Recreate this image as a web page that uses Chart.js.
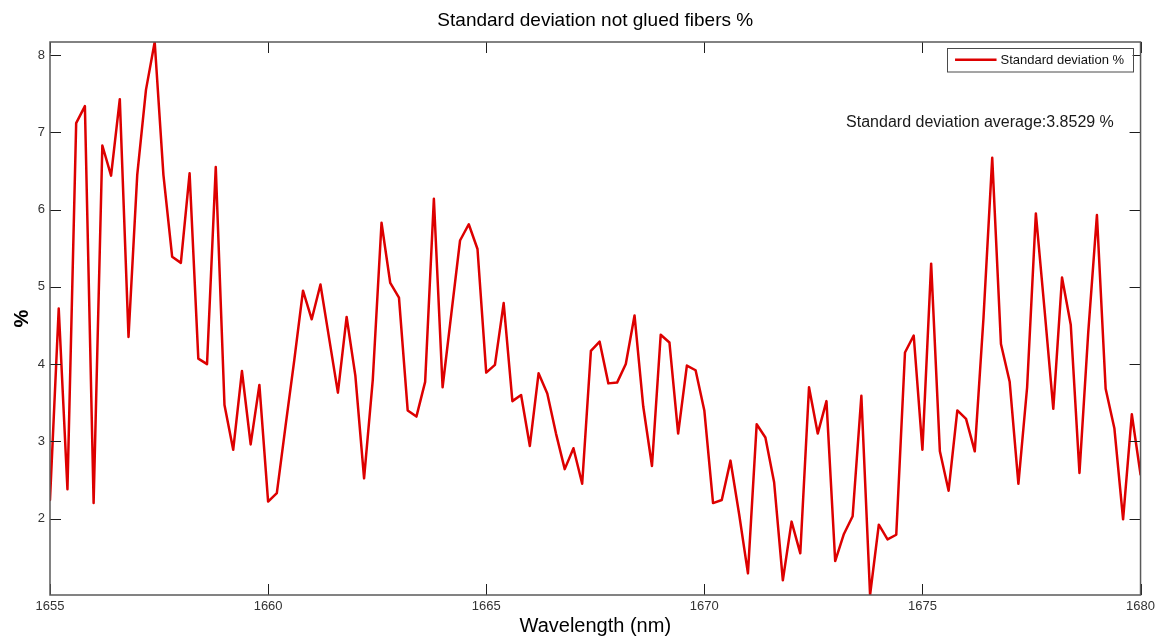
<!DOCTYPE html>
<html>
<head>
<meta charset="utf-8">
<title>Standard deviation not glued fibers %</title>
<script src="https://cdn.jsdelivr.net/npm/chart.js@4/dist/chart.umd.min.js"></script>
<style>
  html, body { margin: 0; padding: 0; background: #ffffff; }
  #wrap { width: 1159px; height: 639px; }
</style>
</head>
<body>
<div id="wrap"><canvas id="chart" width="1159" height="639"></canvas></div>
<script>
// Wavelength samples (nm)
const wavelengths = [
  1655.0, 1655.2, 1655.4, 1655.6, 1655.8, 1656.0, 1656.2, 1656.4, 1656.6, 1656.8,
  1657.0, 1657.2, 1657.4, 1657.6, 1657.8, 1658.0, 1658.2, 1658.4, 1658.6, 1658.8,
  1659.0, 1659.2, 1659.4, 1659.6, 1659.8, 1660.0, 1660.2, 1660.4, 1660.6, 1660.8,
  1661.0, 1661.2, 1661.4, 1661.6, 1661.8, 1662.0, 1662.2, 1662.4, 1662.6, 1662.8,
  1663.0, 1663.2, 1663.4, 1663.6, 1663.8, 1664.0, 1664.2, 1664.4, 1664.6, 1664.8,
  1665.0, 1665.2, 1665.4, 1665.6, 1665.8, 1666.0, 1666.2, 1666.4, 1666.6, 1666.8,
  1667.0, 1667.2, 1667.4, 1667.6, 1667.8, 1668.0, 1668.2, 1668.4, 1668.6, 1668.8,
  1669.0, 1669.2, 1669.4, 1669.6, 1669.8, 1670.0, 1670.2, 1670.4, 1670.6, 1670.8,
  1671.0, 1671.2, 1671.4, 1671.6, 1671.8, 1672.0, 1672.2, 1672.4, 1672.6, 1672.8,
  1673.0, 1673.2, 1673.4, 1673.6, 1673.8, 1674.0, 1674.2, 1674.4, 1674.6, 1674.8,
  1675.0, 1675.2, 1675.4, 1675.6, 1675.8, 1676.0, 1676.2, 1676.4, 1676.6, 1676.8,
  1677.0, 1677.2, 1677.4, 1677.6, 1677.8, 1678.0, 1678.2, 1678.4, 1678.6, 1678.8,
  1679.0, 1679.2, 1679.4, 1679.6, 1679.8, 1680.0
];

// Standard deviation of the not glued fibers (%)
const stdDevPct = [
  2.24, 4.72, 2.38, 7.12, 7.34, 2.20, 6.83, 6.44, 7.43, 4.35,
  6.45, 7.55, 8.17, 6.45, 5.39, 5.31, 6.47, 4.07, 4.00, 6.55,
  3.47, 2.89, 3.91, 2.96, 3.73, 2.22, 2.33, 3.20, 4.05, 4.95,
  4.58, 5.03, 4.33, 3.63, 4.61, 3.85, 2.52, 3.80, 5.83, 5.05,
  4.86, 3.40, 3.32, 3.77, 6.14, 3.70, 4.65, 5.60, 5.81, 5.49,
  3.89, 3.99, 4.79, 3.52, 3.60, 2.94, 3.88, 3.62, 3.10, 2.64,
  2.91, 2.45, 4.17, 4.29, 3.75, 3.76, 4.00, 4.63, 3.45, 2.68,
  4.38, 4.28, 3.10, 3.98, 3.92, 3.40, 2.20, 2.24, 2.75, 2.05,
  1.29, 3.22, 3.05, 2.47, 1.20, 1.96, 1.55, 3.70, 3.10, 3.52,
  1.45, 1.80, 2.03, 3.59, 1.01, 1.92, 1.73, 1.79, 4.15, 4.37,
  2.89, 5.30, 2.87, 2.36, 3.40, 3.29, 2.87, 4.60, 6.67, 4.26,
  3.77, 2.45, 3.70, 5.95, 4.70, 3.42, 5.12, 4.51, 2.59, 4.40,
  5.93, 3.68, 3.17, 1.99, 3.35, 2.57
];

// Axis ticks
const xTicks = [1655, 1660, 1665, 1670, 1675, 1680];
const yTicks = [2, 3, 4, 5, 6, 7, 8];

// Text
const chartTitle = 'Standard deviation not glued fibers %';
const seriesName = 'Standard deviation %';
const xAxisName = 'Wavelength (nm)';
const yAxisName = '%';
const averageNote = 'Standard deviation average:3.8529 %';

const FONT = "'Liberation Sans', Arial, Helvetica, sans-serif";
const LINE_RED = '#dd0000';
const TICK_LEN = 11;

// White page behind everything
const paper = {
  id: 'paper',
  beforeDraw(chart) {
    const ctx = chart.ctx;
    ctx.save();
    ctx.fillStyle = '#ffffff';
    ctx.fillRect(0, 0, chart.width, chart.height);
    ctx.restore();
  }
};

// Axes box with inward tick marks, the average note and the boxed legend
const axesFrame = {
  id: 'axesFrame',
  afterDatasetsDraw(chart) {
    const { ctx, chartArea: a, scales: { x, y } } = chart;
    ctx.save();

    // inward ticks on all four sides
    ctx.strokeStyle = '#1e1e1e';
    ctx.lineWidth = 1;
    ctx.beginPath();
    xTicks.forEach(v => {
      const px = Math.round(x.getPixelForValue(v)) + 0.5;
      ctx.moveTo(px, a.bottom); ctx.lineTo(px, a.bottom - TICK_LEN);
      ctx.moveTo(px, a.top); ctx.lineTo(px, a.top + TICK_LEN);
    });
    yTicks.forEach(v => {
      const py = Math.round(y.getPixelForValue(v)) + 0.5;
      ctx.moveTo(a.left, py); ctx.lineTo(a.left + TICK_LEN, py);
      ctx.moveTo(a.right, py); ctx.lineTo(a.right - TICK_LEN, py);
    });
    ctx.stroke();

    // axes box
    ctx.strokeStyle = '#5a5a5a';
    ctx.lineWidth = 1.5;
    ctx.strokeRect(a.left, a.top, a.right - a.left, a.bottom - a.top);

    // average note, anchored in data coordinates
    ctx.fillStyle = '#1a1a1a';
    ctx.font = '16px ' + FONT;
    ctx.textAlign = 'left';
    ctx.textBaseline = 'middle';
    ctx.fillText(averageNote, x.getPixelForValue(1673.25), y.getPixelForValue(7.13));

    // legend box in the upper right corner
    const lw = 186, lh = 23.5;
    const lx = a.right - 8 - lw, ly = a.top + 6;
    ctx.fillStyle = '#ffffff';
    ctx.fillRect(lx, ly, lw, lh);
    ctx.strokeStyle = '#4a4a4a';
    ctx.lineWidth = 1;
    ctx.strokeRect(Math.round(lx) + 0.5, Math.round(ly) + 0.5, lw, lh);
    const ds = chart.data.datasets[0];
    ctx.strokeStyle = ds.borderColor;
    ctx.lineWidth = 2.5;
    ctx.beginPath();
    ctx.moveTo(lx + 8.5, ly + lh / 2);
    ctx.lineTo(lx + 50, ly + lh / 2);
    ctx.stroke();
    ctx.fillStyle = '#111111';
    ctx.font = '13px ' + FONT;
    ctx.textBaseline = 'middle';
    ctx.fillText(ds.label, lx + 54, ly + lh / 2 + 0.5);

    ctx.restore();
  }
};

const points = wavelengths.map((w, i) => ({ x: w, y: stdDevPct[i] }));

new Chart(document.getElementById('chart'), {
  type: 'line',
  data: {
    datasets: [{
      label: seriesName,
      data: points,
      borderColor: LINE_RED,
      backgroundColor: LINE_RED,
      borderWidth: 2.5,
      pointRadius: 0,
      tension: 0,
      fill: false,
      borderJoinStyle: 'round',
      borderCapStyle: 'round'
    }]
  },
  options: {
    responsive: false,
    devicePixelRatio: 1,
    animation: false,
    layout: { padding: { left: 0, right: 17, top: 0, bottom: 0 } },
    plugins: {
      legend: { display: false },
      tooltip: { enabled: false },
      title: {
        display: true,
        text: chartTitle,
        fullSize: false,
        color: '#000000',
        font: { family: FONT, size: 19, weight: 'normal', lineHeight: 1.2 },
        padding: { top: 9, bottom: 10.2 }
      }
    },
    scales: {
      x: {
        type: 'linear',
        position: 'bottom',
        min: xTicks[0],
        max: xTicks[xTicks.length - 1],
        afterBuildTicks: s => { s.ticks = xTicks.map(v => ({ value: v })); },
        afterFit: s => { s.height = 44; },
        grid: { display: false, drawTicks: false },
        border: { display: false },
        ticks: {
          color: '#333333',
          font: { family: FONT, size: 13 },
          padding: 4,
          maxRotation: 0,
          callback: v => String(v)
        },
        title: {
          display: true,
          text: xAxisName,
          color: '#000000',
          font: { family: FONT, size: 20, lineHeight: 1.2 },
          padding: { top: 0, bottom: 1 }
        }
      },
      y: {
        type: 'linear',
        position: 'left',
        min: Math.min(...stdDevPct),
        max: Math.max(...stdDevPct),
        afterBuildTicks: s => { s.ticks = yTicks.map(v => ({ value: v })); },
        afterFit: s => { s.width = 50; },
        grid: { display: false, drawTicks: false },
        border: { display: false },
        ticks: {
          color: '#333333',
          font: { family: FONT, size: 13 },
          padding: 5,
          callback: v => String(v)
        },
        title: {
          display: true,
          text: yAxisName,
          color: '#000000',
          font: { family: FONT, size: 20, weight: 'bold', lineHeight: 1.2 },
          padding: { top: 10, bottom: 0 }
        }
      }
    }
  },
  plugins: [paper, axesFrame]
});
</script>
</body>
</html>
